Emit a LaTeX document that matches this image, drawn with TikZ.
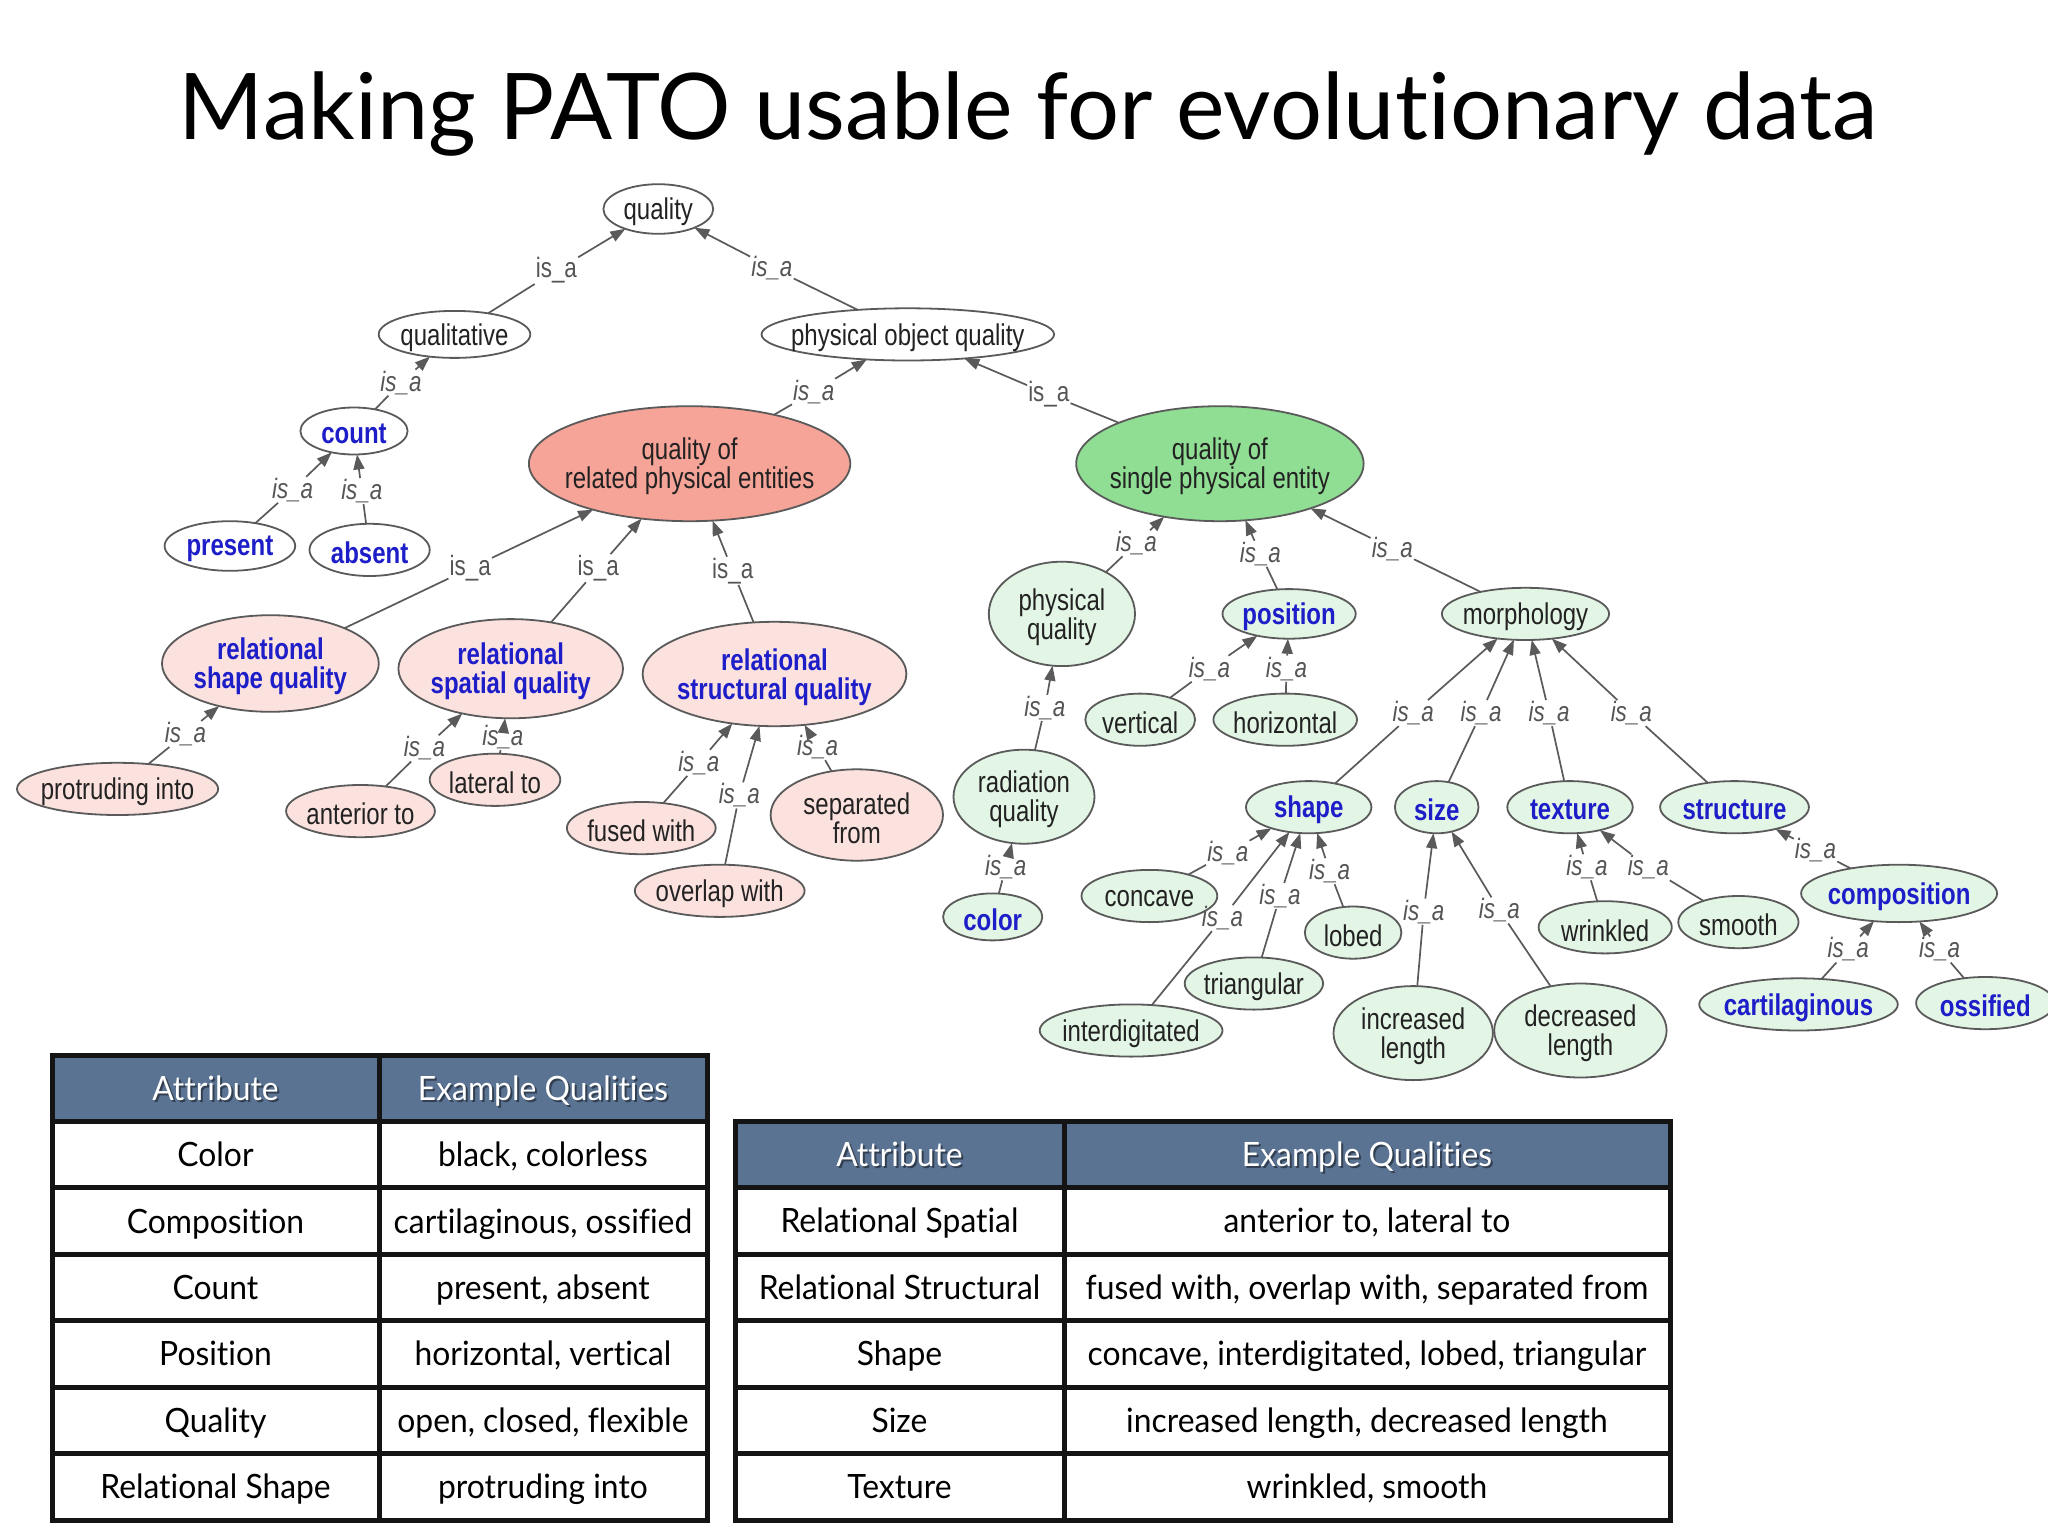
\documentclass[tikz,border=0pt]{standalone}
\usepackage{fontspec}
\usepackage{graphicx}
\setmainfont[Ligatures={NoCommon},FakeStretch=0.95]{Lato}
\newfontfamily\titlefont[Ligatures={NoCommon}]{Lato}
\newfontfamily\gv[FakeStretch=0.8]{Liberation Sans}
\usetikzlibrary{shapes.geometric,arrows.meta}
\definecolor{edgec}{HTML}{5A5A5A}
\definecolor{lblc}{HTML}{555555}
\definecolor{salmonc}{HTML}{F6A398}
\definecolor{pinkc}{HTML}{FCE2DE}
\definecolor{greenc}{HTML}{90DE94}
\definecolor{lgreenc}{HTML}{E3F6E5}
\definecolor{nbluec}{HTML}{1E1EC8}
\definecolor{txtc}{HTML}{222222}
\definecolor{hdrc}{HTML}{5B7393}
\newcommand\bl[1]{{\bfseries\color{nbluec}#1}}
\newcommand\nd[7]{%
  \node[#2, minimum width={2*#5pt}, minimum height={2*#6pt}] (#1) at (#3,#4) {};
  \node[ntext] (#1-t) at ([yshift=-3pt]#1.center) {#7};}
\newcommand\isa[6]{%
  \node[#2] (#1) at (#3,#4) {is\_a};
  \draw[edge] (#5) -- (#1);
  \draw[edge,arr] (#1) -- (#6);}
\newcommand\trow[6]{%
  \node[cell] (#1a) at (#2,#4) {#5};
  \node[cell] (#1b) at (#3,#4) {#6};}
\newcommand\thead[4]{%
  \node[hshadow] (#1s1) at ({#2+2},{#4+2}) {Attribute};
  \node[hshadow] (#1s2) at ({#3+2},{#4+2}) {Example Qualities};
  \node[hcell] (#1h1) at (#2,#4) {Attribute};
  \node[hcell] (#1h2) at (#3,#4) {Example Qualities};}
\begin{document}
\begin{tikzpicture}[x=1pt,y=-1pt,
  ell/.style={ellipse, draw=edgec, line width=1.8pt, inner sep=0pt, outer sep=0pt},
  wn/.style={ell, fill=white},
  rn/.style={ell, fill=salmonc},
  pn/.style={ell, fill=pinkc},
  gn/.style={ell, fill=greenc},
  ln/.style={ell, fill=lgreenc},
  ntext/.style={align=center, font=\gv\fontsize{30}{29}\selectfont, text=txtc, inner sep=0pt},
  lbl/.style={font=\gv\fontsize{28}{28}\selectfont, text=lblc, inner sep=1pt},
  ilbl/.style={lbl, font=\gv\itshape\fontsize{28}{28}\selectfont},
  edge/.style={draw=edgec, line width=1.7pt},
  arr/.style={-{Triangle[length=15pt,width=11pt]}},
  cell/.style={font=\fontsize{33.5}{40}\selectfont, text=black, inner sep=0pt, text height=24pt, text depth=0pt},
  hcell/.style={cell, text=white},
  hshadow/.style={cell, text=black, opacity=0.45},
  tline/.style={draw=black!92, line width=5pt},
]
\useasboundingbox[fill=white] (0,0) rectangle (2048,1536);

% title
\node[anchor=base, inner sep=0pt] (title) at (1028.5,140)
  {\resizebox{1699pt}{\height}{\titlefont\fontsize{92}{100}\selectfont Making PATO usable for evolutionary data}};

% ---------- graph nodes ----------
\nd{quality}{wn}{658.3}{209}{54.9}{24.8}{quality}
\nd{qualitative}{wn}{454.5}{334.4}{75.8}{23.5}{qualitative}
\nd{poq}{wn}{907.8}{334.4}{146.3}{26.1}{physical object quality}
\nd{count}{wn}{354}{431}{53.6}{23.5}{\bl{count}}
\nd{present}{wn}{229.9}{546}{65.3}{24.8}{\bl{present}}
\nd{absent}{wn}{369.6}{549.9}{60.1}{26.1}{\bl{absent}}
\nd{qrpe}{rn}{689.6}{463.7}{160.7}{57.5}{quality of\\related physical entities}
\nd{qspe}{gn}{1219.9}{463.7}{143.7}{57.5}{quality of\\single physical entity}
\nd{relshape}{pn}{270.4}{663.5}{108.4}{48.3}{\bl{relational}\\\bl{shape quality}}
\nd{relspatial}{pn}{510.7}{668.7}{112.3}{49.6}{\bl{relational}\\\bl{spatial quality}}
\nd{relstruct}{pn}{774.5}{674}{131.9}{52.2}{\bl{relational}\\\bl{structural quality}}
\nd{protruding}{pn}{117.6}{788.9}{100.6}{26.1}{protruding into}
\nd{anterior}{pn}{360.5}{811.1}{74.4}{26.1}{anterior to}
\nd{lateral}{pn}{495}{779.8}{65.3}{26.1}{lateral to}
\nd{fused}{pn}{641.3}{828.1}{74.4}{26.1}{fused with}
\nd{separated}{pn}{856.8}{815}{86.2}{45.7}{separated\\from}
\nd{overlap}{pn}{719.7}{890.8}{84.9}{26.1}{overlap with}
\nd{physqual}{ln}{1061.9}{613.9}{73.1}{52.2}{physical\\quality}
\nd{position}{ln}{1289.1}{613.9}{66.6}{24.8}{\bl{position}}
\nd{morphology}{ln}{1525.5}{613.9}{83.6}{26.1}{morphology}
\nd{vertical}{ln}{1140.2}{719.7}{54.9}{26.1}{vertical}
\nd{horizontal}{ln}{1285.2}{719.7}{71.8}{26.1}{horizontal}
\nd{radiation}{ln}{1024}{796.7}{70.5}{47}{radiation\\quality}
\nd{color}{ln}{992.7}{916.9}{49.6}{23.5}{\bl{color}}
\nd{shape}{ln}{1308.7}{807.2}{62.7}{26.1}{\bl{shape}}
\nd{size}{ln}{1436.7}{807.2}{41.8}{26.1}{\bl{size}}
\nd{texture}{ln}{1570}{807.2}{62.7}{26.1}{\bl{texture}}
\nd{structure}{ln}{1734.5}{807.2}{74.4}{26.1}{\bl{structure}}
\nd{concave}{ln}{1149.4}{896}{67.9}{26.1}{concave}
\nd{lobed}{ln}{1353.1}{932.6}{48.3}{26.1}{lobed}
\nd{triangular}{ln}{1253.9}{983.5}{69.2}{26.1}{triangular}
\nd{interdig}{ln}{1131.1}{1030.5}{91.4}{26.1}{interdigitated}
\nd{increased}{ln}{1413.2}{1033.1}{79.7}{47}{increased\\length}
\nd{decreased}{ln}{1580.4}{1030.5}{86.2}{47}{decreased\\length}
\nd{wrinkled}{ln}{1605.2}{927.3}{66.6}{26.1}{wrinkled}
\nd{smooth}{ln}{1738.4}{922.1}{60.1}{26.1}{smooth}
\nd{composition}{ln}{1899.1}{893.4}{98}{28.7}{\bl{composition}}
\nd{cartilag}{ln}{1798.5}{1004.4}{99.3}{26.1}{\bl{cartilaginous}}
\nd{ossified}{ln}{1985.3}{1003.1}{69.2}{26.1}{\bl{ossified}}

% ---------- is_a edges ----------
\isa{e1}{lbl}{556.4}{270.4}{qualitative}{quality}
\isa{e2}{ilbl}{771.9}{267.8}{poq}{quality}
\isa{e3}{ilbl}{401}{382.7}{count}{qualitative}
\isa{e4}{ilbl}{292.6}{489.8}{present}{count}
\isa{e5}{ilbl}{361.8}{491.1}{absent}{count}
\isa{e6}{ilbl}{813.7}{391.8}{qrpe}{poq}
\isa{e7}{lbl}{1048.8}{394.4}{qspe}{poq}
\isa{e8}{lbl}{470.2}{568.2}{relshape}{qrpe}
\isa{e9}{lbl}{598.2}{568.2}{relspatial}{qrpe}
\isa{e10}{lbl}{732.7}{570.8}{relstruct}{qrpe}
\isa{e11}{ilbl}{185.5}{734}{protruding}{relshape}
\isa{e12}{ilbl}{424.5}{748.4}{anterior}{relspatial}
\isa{e13}{ilbl}{502.9}{737}{lateral}{relspatial}
\isa{e14}{ilbl}{698.8}{762.8}{fused}{relstruct}
\isa{e15}{ilbl}{739.3}{795.4}{overlap}{relstruct}
\isa{e16}{ilbl}{817.6}{747.1}{separated}{relstruct}
\isa{e17}{ilbl}{1136.3}{543.3}{physqual}{qspe}
\isa{e18}{ilbl}{1260.4}{553.8}{position}{qspe}
\isa{e19}{ilbl}{1392.3}{548.6}{morphology}{qspe}
\isa{e20}{ilbl}{1044.9}{707.9}{radiation}{physqual}
\isa{e21}{ilbl}{1209.5}{668.7}{vertical}{position}
\isa{e22}{ilbl}{1286.5}{668.7}{horizontal}{position}
\isa{e23}{ilbl}{1005.7}{867.3}{color}{radiation}
\isa{e24}{ilbl}{1413.2}{713.1}{shape}{morphology}
\isa{e25}{ilbl}{1481.1}{713.1}{size}{morphology}
\isa{e26}{ilbl}{1549.1}{713.1}{texture}{morphology}
\isa{e27}{ilbl}{1631.3}{713.1}{structure}{morphology}
\isa{e28}{ilbl}{1227.8}{852.9}{concave}{shape}
\isa{e29}{ilbl}{1222.5}{918.2}{interdig}{shape}
\isa{e30}{ilbl}{1280}{896}{triangular}{shape}
\isa{e31}{ilbl}{1329.6}{871.2}{lobed}{shape}
\isa{e32}{ilbl}{1423.7}{911.7}{increased}{size}
\isa{e33}{ilbl}{1499.4}{910.4}{decreased}{size}
\isa{e34}{ilbl}{1586.9}{867.3}{wrinkled}{texture}
\isa{e35}{ilbl}{1648.3}{867.3}{smooth}{texture}
\isa{e36}{ilbl}{1815.5}{850.3}{composition}{structure}
\isa{e37}{ilbl}{1848.2}{949.5}{cartilag}{composition}
\isa{e38}{ilbl}{1939.6}{949.5}{ossified}{composition}

% ---------- table 1 ----------
\fill[hdrc] (52,1055) rectangle (707,1121.4);
\draw[tline] (52,1055) rectangle (707,1520);
\foreach \k in {1,...,6} \draw[tline] (52,{1055+66.43*\k}) -- (707,{1055+66.43*\k});
\draw[tline] (379,1055) -- (379,1520);
\thead{ta}{215.5}{543}{1088.2}
\trow{ta1}{215.5}{543}{1154.6}{Color}{black, colorless}
\trow{ta2}{215.5}{543}{1221.1}{Composition}{cartilaginous, ossified}
\trow{ta3}{215.5}{543}{1287.5}{Count}{present, absent}
\trow{ta4}{215.5}{543}{1353.9}{Position}{horizontal, vertical}
\trow{ta5}{215.5}{543}{1420.4}{Quality}{open, closed, flexible}
\trow{ta6}{215.5}{543}{1486.8}{Relational Shape}{protruding into}

% ---------- table 2 ----------
\fill[hdrc] (735,1121) rectangle (1670,1187.5);
\draw[tline] (735,1121) rectangle (1670,1520);
\foreach \k in {1,...,5} \draw[tline] (735,{1121+66.5*\k}) -- (1670,{1121+66.5*\k});
\draw[tline] (1064,1121) -- (1064,1520);
\thead{tb}{899.5}{1367}{1154.25}
\trow{tb1}{899.5}{1367}{1220.75}{Relational Spatial}{anterior to, lateral to}
\trow{tb2}{899.5}{1367}{1287.25}{Relational Structural}{fused with, overlap with, separated from}
\trow{tb3}{899.5}{1367}{1353.75}{Shape}{concave, interdigitated, lobed, triangular}
\trow{tb4}{899.5}{1367}{1420.25}{Size}{increased length, decreased length}
\trow{tb5}{899.5}{1367}{1486.75}{Texture}{wrinkled, smooth}
\end{tikzpicture}
\end{document}
